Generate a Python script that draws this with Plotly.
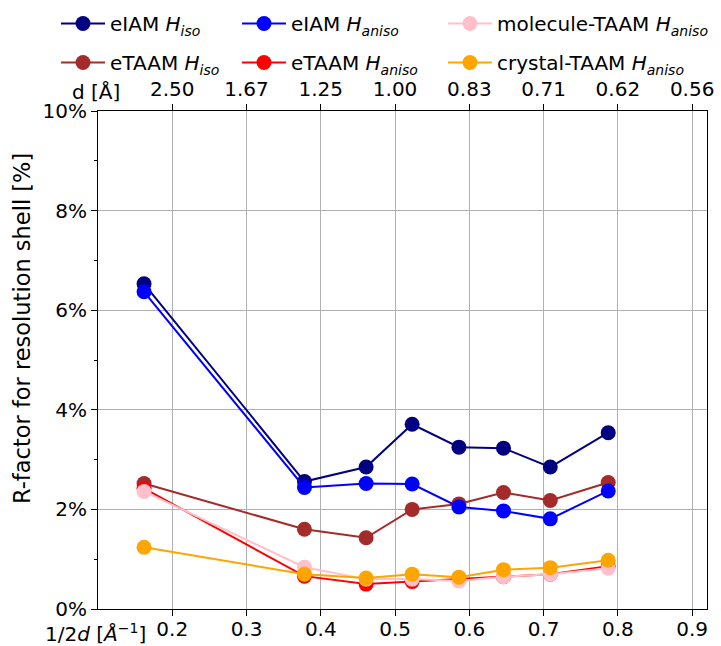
import plotly.graph_objects as go

# Resolution shells (1/2d, Å^-1) and R-factor per shell (%)
shell_x = [0.162, 0.378, 0.461, 0.523, 0.586, 0.646, 0.709, 0.787]
eiam_iso = [6.53, 2.56, 2.85, 3.71, 3.25, 3.23, 2.85, 3.54]
eiam_aniso = [6.37, 2.44, 2.52, 2.51, 2.05, 1.97, 1.81, 2.37]
etaam_iso = [2.52, 1.60, 1.43, 2.00, 2.11, 2.34, 2.18, 2.54]
etaam_aniso = [2.42, 0.66, 0.50, 0.55, 0.60, 0.65, 0.70, 0.86]
molecule_taam_aniso = [2.36, 0.84, 0.60, 0.60, 0.56, 0.65, 0.70, 0.82]
crystal_taam_aniso = [1.24, 0.70, 0.62, 0.70, 0.64, 0.79, 0.83, 0.98]

x_ticks = [0.2, 0.3, 0.4, 0.5, 0.6, 0.7, 0.8, 0.9]
d_labels = [f"{1 / (2 * v):.2f}" for v in x_ticks]
y_ticks = [0, 2, 4, 6, 8, 10]
y_labels = [f"{v}%" for v in y_ticks]

FONT = "DejaVu Sans"
W, H = 721, 646
ML, MR, MT, MB = 98, 14, 111, 37
PW, PH = W - ML - MR, H - MT - MB


def px_x(p):
    return (p - ML) / PW


def px_y(p):
    return (H - MB - p) / PH


# (name, values, colour, legend id) in drawing order
series = [
    ("eIAM <i>H</i><sub><i>iso</i></sub>", eiam_iso, "#000080", "legend"),
    ("eTAAM <i>H</i><sub><i>iso</i></sub>", etaam_iso, "#A52A2A", "legend"),
    ("eIAM <i>H</i><sub><i>aniso</i></sub>", eiam_aniso, "#0000FF", "legend2"),
    ("eTAAM <i>H</i><sub><i>aniso</i></sub>", etaam_aniso, "#FF0000", "legend2"),
    ("molecule-TAAM <i>H</i><sub><i>aniso</i></sub>", molecule_taam_aniso, "#FFC0CB", "legend3"),
    ("crystal-TAAM <i>H</i><sub><i>aniso</i></sub>", crystal_taam_aniso, "#FFA500", "legend3"),
]

fig = go.Figure()
for i, (name, vals, color, leg) in enumerate(series):
    fig.add_trace(go.Scatter(
        x=shell_x, y=vals, name=name, mode="lines+markers",
        line=dict(color=color, width=2),
        marker=dict(color=color, size=15),
        legend=leg, legendgroup=f"g{i}",
    ))

# invisible companion trace so the top d-axis is drawn
fig.add_trace(go.Scatter(x=x_ticks, y=[None] * len(x_ticks), xaxis="x2",
                         showlegend=False, hoverinfo="skip"))

axis_common = dict(
    showline=True, linecolor="black", linewidth=1.2,
    ticks="outside", ticklen=6, tickwidth=1.2, tickcolor="black",
    tickfont=dict(family=FONT, size=20, color="black"),
    automargin=False,
)

fig.update_layout(
    width=W, height=H,
    margin=dict(l=ML, r=MR, t=MT, b=MB, autoexpand=False),
    paper_bgcolor="white", plot_bgcolor="white",
    font=dict(family=FONT, size=20, color="black"),
    xaxis=dict(range=[0.1, 0.92], tickvals=x_ticks,
               ticktext=[f"{v:.1f}" for v in x_ticks],
               showgrid=True, gridcolor="#b0b0b0", gridwidth=1,
               mirror=True, zeroline=False, ticklabelstandoff=-4,
               **axis_common),
    xaxis2=dict(range=[0.1, 0.92], overlaying="x", side="top",
                tickvals=x_ticks, ticktext=d_labels, showgrid=False,
                zeroline=False, **axis_common),
    yaxis=dict(range=[0, 10], tickvals=y_ticks, ticktext=y_labels,
               showgrid=True, gridcolor="#b0b0b0", gridwidth=1,
               mirror=True, zeroline=False,
               minor=dict(dtick=1, ticks="outside", ticklen=3,
                          tickcolor="black", showgrid=False),
               **axis_common),
    showlegend=True,
)

leg_common = dict(
    orientation="v", xanchor="left", yanchor="top",
    font=dict(family=FONT, size=20, color="black"),
    bgcolor="rgba(0,0,0,0)", borderwidth=0, itemwidth=44,
    traceorder="grouped", tracegroupgap=10,
)
fig.update_layout(
    legend=dict(x=px_x(56), y=px_y(4), **leg_common),
    legend2=dict(x=px_x(237), y=px_y(4), **leg_common),
    legend3=dict(x=px_x(443), y=px_y(4), **leg_common),
)

fig.add_annotation(
    text="R-factor for resolution shell [%]", textangle=-90,
    xref="paper", yref="paper", x=px_x(22), y=px_y(329),
    xanchor="center", yanchor="middle", showarrow=False,
    font=dict(family=FONT, size=22.5, color="black"),
)
fig.add_annotation(
    text="1/2<i>d</i> [<i>Å</i><sup>−1</sup>]",
    xref="paper", yref="paper", x=px_x(148), y=px_y(633),
    xanchor="right", yanchor="middle", showarrow=False,
    font=dict(family=FONT, size=20, color="black"),
)
fig.add_annotation(
    text="d [Å]",
    xref="paper", yref="paper", x=px_x(122), y=px_y(92),
    xanchor="right", yanchor="middle", showarrow=False,
    font=dict(family=FONT, size=20, color="black"),
)

fig.write_html("out.html")
